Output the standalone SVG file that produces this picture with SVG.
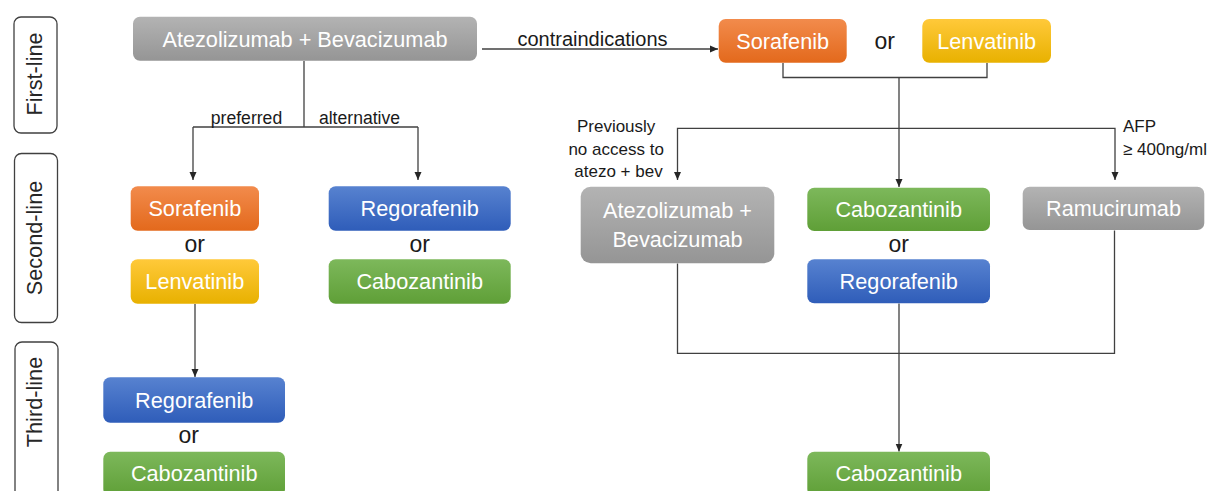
<svg xmlns="http://www.w3.org/2000/svg" width="1213" height="491" viewBox="0 0 1213 491">
  <defs>
    <linearGradient id="gGray" x1="0" y1="0" x2="0" y2="1">
      <stop offset="0" stop-color="#b3b3b3"/>
      <stop offset="1" stop-color="#959595"/>
    </linearGradient>
    <linearGradient id="gOrange" x1="0" y1="0" x2="0" y2="1">
      <stop offset="0" stop-color="#f28b4c"/>
      <stop offset="1" stop-color="#e3691c"/>
    </linearGradient>
    <linearGradient id="gYellow" x1="0" y1="0" x2="0" y2="1">
      <stop offset="0" stop-color="#ffc93a"/>
      <stop offset="1" stop-color="#e8b100"/>
    </linearGradient>
    <linearGradient id="gBlue" x1="0" y1="0" x2="0" y2="1">
      <stop offset="0" stop-color="#5782d0"/>
      <stop offset="1" stop-color="#2f5db9"/>
    </linearGradient>
    <linearGradient id="gGreen" x1="0" y1="0" x2="0" y2="1">
      <stop offset="0" stop-color="#7db85b"/>
      <stop offset="1" stop-color="#5f9f37"/>
    </linearGradient>
    <marker id="arrow" markerUnits="userSpaceOnUse" markerWidth="9" markerHeight="8" refX="8" refY="4" orient="auto">
      <path d="M0,0.5 L8,4 L0,7.5 z" fill="#262626"/>
    </marker>
    <style>
      .lane { fill: #ffffff; stroke: #404040; stroke-width: 1.3; }
      .lane-text { font-family: "Liberation Sans", Arial, sans-serif; font-size: 21.7px; fill: #262626; text-anchor: middle; }
      .box-text { font-family: "Liberation Sans", Arial, sans-serif; font-size: 21.7px; fill: #ffffff; text-anchor: middle; }
      .or { font-family: "Liberation Sans", Arial, sans-serif; font-size: 23px; fill: #1a1a1a; text-anchor: middle; }
      .label { font-family: "Liberation Sans", Arial, sans-serif; font-size: 17px; fill: #1a1a1a; }
      .conn { fill: none; stroke: #404040; stroke-width: 1.3; }
      .gray { fill: url(#gGray); }
      .orange { fill: url(#gOrange); }
      .yellow { fill: url(#gYellow); }
      .blue { fill: url(#gBlue); }
      .green { fill: url(#gGreen); }
    </style>
  </defs>

  <rect width="1213" height="491" fill="#ffffff"/>

  <!-- line-of-therapy lanes -->
  <g id="lane-first">
    <rect class="lane" x="14" y="17" width="43" height="116" rx="7"/>
    <text class="lane-text" transform="translate(42,74) rotate(-90)">First-line</text>
  </g>
  <g id="lane-second">
    <rect class="lane" x="14.5" y="153.5" width="43" height="169" rx="7"/>
    <text class="lane-text" transform="translate(42,238) rotate(-90)">Second-line</text>
  </g>
  <g id="lane-third">
    <rect class="lane" x="15" y="342" width="43" height="170" rx="7"/>
    <text class="lane-text" transform="translate(42,402) rotate(-90)">Third-line</text>
  </g>

  <!-- connectors -->
  <g id="connectors">
    <path class="conn" d="M482,49 H718" marker-end="url(#arrow)"/>
    <path class="conn" d="M304,61 V127"/>
    <path class="conn" d="M193,127 H418"/>
    <path class="conn" d="M193,127 V180" marker-end="url(#arrow)"/>
    <path class="conn" d="M418,127 V180" marker-end="url(#arrow)"/>
    <path class="conn" d="M195,304 V377" marker-end="url(#arrow)"/>
    <path class="conn" d="M783,63 V77.5 H987 V63"/>
    <path class="conn" d="M899,77.5 V187" marker-end="url(#arrow)"/>
    <path class="conn" d="M899,128.3 H677.5 V180" marker-end="url(#arrow)"/>
    <path class="conn" d="M899,128.3 H1115 V180" marker-end="url(#arrow)"/>
    <path class="conn" d="M677.5,263.5 V353.3 H1114.5 V230.5"/>
    <path class="conn" d="M899,303.5 V451.5" marker-end="url(#arrow)"/>
  </g>

  <!-- connector labels -->
  <g id="labels">
    <text class="label" x="592.5" y="45.5" text-anchor="middle" style="font-size:20px">contraindications</text>
    <text class="label" x="246.5" y="123.5" text-anchor="middle" style="font-size:17.6px">preferred</text>
    <text class="label" x="359.5" y="123.5" text-anchor="middle" style="font-size:17.6px">alternative</text>
    <text class="label" text-anchor="middle">
      <tspan x="618.5" y="131.5">Previously</tspan>
      <tspan x="618.5" y="154.5">no access to</tspan>
      <tspan x="618.5" y="177">atezo + bev</tspan>
    </text>
    <text class="label">
      <tspan x="1123" y="131.5">AFP</tspan>
      <tspan x="1123" y="154.5">≥ 400ng/ml</tspan>
    </text>
  </g>

  <!-- first line -->
  <g id="first-atezo-bev">
    <rect class="gray" x="133" y="16.7" width="344" height="44" rx="7"/>
    <text class="box-text" x="305" y="46.5">Atezolizumab + Bevacizumab</text>
  </g>
  <g id="first-sorafenib">
    <rect class="orange" x="718.7" y="19" width="128" height="43.7" rx="7"/>
    <text class="box-text" x="782.7" y="48.5">Sorafenib</text>
  </g>
  <text class="or" x="884.7" y="48.5">or</text>
  <g id="first-lenvatinib">
    <rect class="yellow" x="922.3" y="19" width="128.7" height="43.7" rx="7"/>
    <text class="box-text" x="986.7" y="48.5">Lenvatinib</text>
  </g>

  <!-- second line, after atezolizumab + bevacizumab -->
  <g id="second-sorafenib">
    <rect class="orange" x="130.7" y="186.3" width="128.3" height="44.4" rx="7"/>
    <text class="box-text" x="194.8" y="216">Sorafenib</text>
  </g>
  <text class="or" x="194.8" y="252.3">or</text>
  <g id="second-lenvatinib">
    <rect class="yellow" x="130.7" y="259.3" width="128.3" height="44.5" rx="7"/>
    <text class="box-text" x="194.8" y="289">Lenvatinib</text>
  </g>
  <g id="second-regorafenib-alt">
    <rect class="blue" x="328.7" y="186.3" width="182" height="44.4" rx="7"/>
    <text class="box-text" x="419.7" y="216">Regorafenib</text>
  </g>
  <text class="or" x="419.7" y="252.3">or</text>
  <g id="second-cabozantinib-alt">
    <rect class="green" x="328.7" y="259.3" width="182" height="44.5" rx="7"/>
    <text class="box-text" x="419.7" y="289">Cabozantinib</text>
  </g>

  <!-- third line, after sorafenib or lenvatinib -->
  <g id="third-regorafenib">
    <rect class="blue" x="103.3" y="377.3" width="181.7" height="45.4" rx="7"/>
    <text class="box-text" x="194.2" y="407.5">Regorafenib</text>
  </g>
  <text class="or" x="188.8" y="443.3">or</text>
  <g id="third-cabozantinib">
    <rect class="green" x="103.3" y="451.7" width="181.7" height="44.3" rx="7"/>
    <text class="box-text" x="194.2" y="481.3">Cabozantinib</text>
  </g>

  <!-- second line, after sorafenib or lenvatinib -->
  <g id="second-atezo-bev">
    <rect class="gray" x="580.7" y="186.7" width="193.6" height="76.6" rx="10"/>
    <text class="box-text" x="677.5" y="218.3">Atezolizumab +</text>
    <text class="box-text" x="677.5" y="247.3">Bevacizumab</text>
  </g>
  <g id="second-cabozantinib">
    <rect class="green" x="807.3" y="187.7" width="182.7" height="43.3" rx="7"/>
    <text class="box-text" x="898.7" y="216.8">Cabozantinib</text>
  </g>
  <text class="or" x="898.7" y="252.3">or</text>
  <g id="second-regorafenib">
    <rect class="blue" x="807.3" y="259.3" width="182.7" height="44" rx="7"/>
    <text class="box-text" x="898.7" y="288.8">Regorafenib</text>
  </g>
  <g id="second-ramucirumab">
    <rect class="gray" x="1022.7" y="186.7" width="181.6" height="43.3" rx="7"/>
    <text class="box-text" x="1113.5" y="216">Ramucirumab</text>
  </g>
  <g id="third-cabozantinib-right">
    <rect class="green" x="807.3" y="451.7" width="182.7" height="44.3" rx="7"/>
    <text class="box-text" x="898.7" y="481.3">Cabozantinib</text>
  </g>
</svg>
